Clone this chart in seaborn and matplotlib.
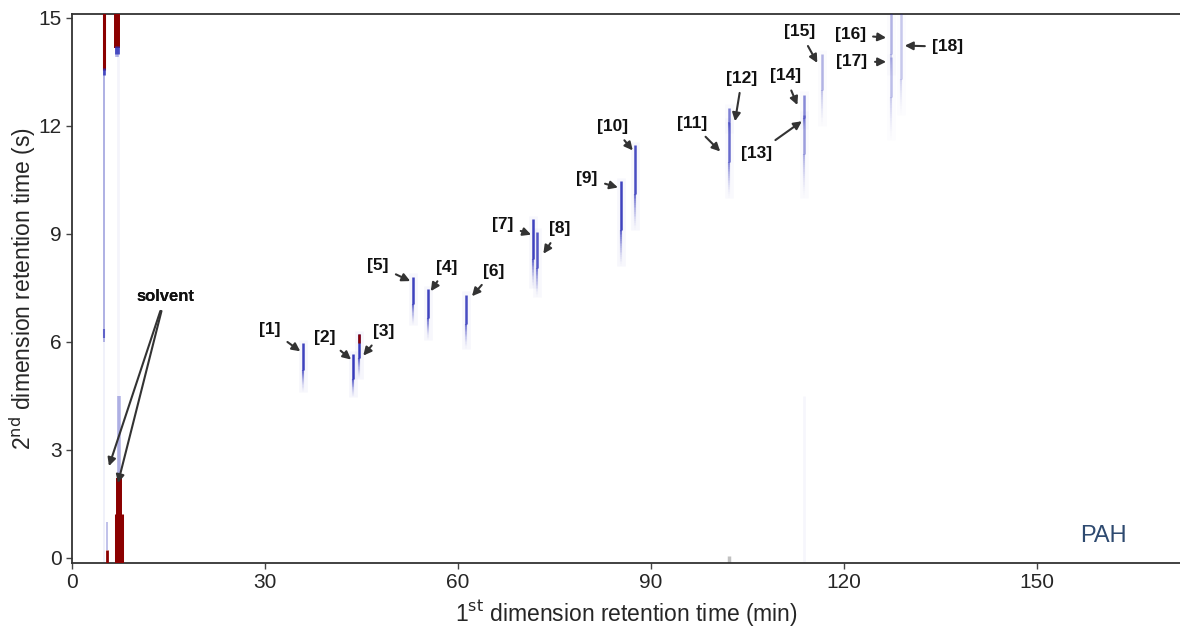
import numpy as np
import matplotlib
matplotlib.use("Agg")
import matplotlib.pyplot as plt
import seaborn as sns

# GCxGC chromatogram of a PAH standard

# compound peaks: 1st dim rt (min), 2nd dim rt at peak top and bottom of the dense core (s), tail length (s)
peak_rt1 = [35.9, 43.7, 44.6, 55.4, 53.0, 61.3, 71.7, 72.3, 85.4, 87.6,
            102.2, 102.2, 113.8, 113.8, 116.6, 127.3, 127.3, 128.9]
peak_top = [5.95, 5.65, 6.20, 7.45, 7.80, 7.30, 9.40, 9.05, 10.45, 11.45,
            12.10, 12.50, 12.30, 12.85, 14.00, 15.20, 13.90, 15.20]
peak_bot = [5.20, 4.95, 5.55, 6.65, 7.05, 6.50, 8.30, 8.05, 9.10, 10.10,
            11.00, 12.10, 11.20, 12.20, 13.00, 14.00, 12.80, 13.30]
peak_tail = [0.6, 0.5, 0.6, 0.6, 0.6, 0.7, 0.8, 0.8, 1.0, 1.0,
             1.0, 0.3, 1.2, 0.3, 1.0, 0.6, 1.2, 1.0]
peak_strength = [0.9, 0.95, 0.95, 0.9, 0.9, 0.85, 0.9, 0.8, 0.9, 0.85,
                 0.7, 0.6, 0.45, 0.55, 0.35, 0.35, 0.3, 0.25]
peak_labels = ["[%d]" % i for i in range(1, 19)]

# solvent streaks (wrap-around): rt1, red part top/bottom, blue part top/bottom
solvent_rt1 = [5.0, 7.0, 5.4, 7.3]
solvent_red_top = [15.2, 15.2, 0.2, 2.2]
solvent_red_bot = [13.55, 14.15, -0.2, -0.2]
solvent_blue_top = [13.55, 14.15, 1.0, 4.5]
solvent_blue_bot = [6.0, 13.9, 0.2, 2.2]

# annotation layout: arrow tip and label centre (data coords)
tip_x = [35.5, 43.4, 45.3, 55.8, 52.6, 62.2, 71.4, 73.3, 84.9, 87.2,
         100.8, 103.1, 113.5, 112.8, 115.9, 126.6, 126.6, 129.5]
tip_y = [5.73, 5.50, 5.61, 7.40, 7.68, 7.26, 8.97, 8.44, 10.28, 11.31,
         11.28, 12.12, 12.12, 12.57, 13.74, 14.44, 13.77, 14.22]
txt_x = [30.8, 39.3, 48.4, 58.3, 47.6, 65.6, 67.0, 75.9, 80.1, 84.1,
         96.4, 104.2, 106.5, 110.9, 113.2, 121.0, 121.3, 136.2]
txt_y = [6.34, 6.12, 6.28, 8.07, 8.10, 7.96, 9.25, 9.13, 10.53, 11.98,
         12.07, 13.32, 11.23, 13.38, 14.61, 14.53, 13.77, 14.19]

sns.set_style("white")
plt.rcParams['font.family'] = ['Liberation Sans', 'DejaVu Sans']

fig = plt.figure(figsize=(11.8, 6.34), dpi=100)
ax = fig.add_axes([0.061, 0.112, 0.939, 0.866])

blue = "#2b2fb8"
red = "#8b0000"


def streak(x, top, bot, tail, color, lw, strength=1.0, halo=True):
    # faint halo around the peak
    if halo:
        ax.vlines(x, bot - tail, top + 0.1, color=color, lw=lw * 3.5,
                  alpha=0.04 * strength, zorder=1)
    # dense core
    ax.vlines(x, bot, top, color=color, lw=lw, alpha=strength, zorder=3)
    # fading tail
    n = 20
    edges = np.linspace(bot, bot - tail, n + 1)
    for i in range(n):
        a = strength * 0.85 * (1 - (i + 1) / (n + 1)) ** 1.5
        ax.vlines(x, edges[i + 1], edges[i], color=color, lw=lw * 0.85,
                  alpha=a, zorder=2)


# faint long streaks in the background
ax.vlines(5.0, -0.2, 15.2, color=blue, lw=1.2, alpha=0.08, zorder=1)
ax.vlines(7.2, -0.2, 15.2, color=blue, lw=2.0, alpha=0.05, zorder=1)
ax.vlines(113.9, -0.2, 4.5, color=blue, lw=2.0, alpha=0.04, zorder=1)
ax.vlines(102.2, -0.2, 0.05, color="#333333", lw=2.5, alpha=0.3, zorder=1)

for i in range(len(peak_rt1)):
    streak(peak_rt1[i], peak_top[i], peak_bot[i], peak_tail[i], blue, 1.8,
           peak_strength[i])
# red tip on peak [3]
ax.vlines(peak_rt1[2], peak_top[2] - 0.25, peak_top[2], color=red, lw=1.8, zorder=4)

# solvent
widths = [2.2, 4.3, 2.0, 4.3]
for i in range(len(solvent_rt1)):
    ax.vlines(solvent_rt1[i], solvent_blue_bot[i], solvent_blue_top[i],
              color=blue, lw=widths[i] * 0.6, alpha=0.35, zorder=2)
    ax.vlines(solvent_rt1[i], solvent_red_bot[i], solvent_red_top[i],
              color=red, lw=widths[i], zorder=4)
ax.vlines(solvent_rt1[1], solvent_red_bot[1] - 0.15, solvent_red_bot[1] + 0.05,
          color=blue, lw=3.5, alpha=0.8, zorder=5)
ax.vlines(solvent_rt1[0], solvent_red_bot[0] - 0.15, solvent_red_bot[0] + 0.05,
          color=blue, lw=2.0, alpha=0.8, zorder=5)
ax.vlines(solvent_rt1[0], 6.1, 6.35, color=blue, lw=1.5, alpha=0.6, zorder=3)
# widening foot of main solvent peak
ax.vlines(solvent_rt1[3], -0.2, 1.2, color=red, lw=6.5, zorder=4)

arrow = dict(arrowstyle="-|>", color="#333333", lw=1.5, mutation_scale=12,
             shrinkA=3, shrinkB=0)
for i in range(len(peak_labels)):
    ax.annotate(peak_labels[i], xy=(tip_x[i], tip_y[i]), xytext=(txt_x[i], txt_y[i]),
                ha="center", va="center", fontsize=12.5, fontweight="bold",
                color="#111111", arrowprops=arrow, zorder=6)

for tx, ty in [(5.75, 2.54), (7.15, 2.07)]:
    ax.annotate("solvent", xy=(tx, ty), xytext=(14.5, 7.26), ha="center",
                va="center", fontsize=12, fontweight="bold", color="#111111",
                arrowprops=arrow, zorder=6)

ax.text(164, 0.6, "PAH", fontsize=17, color="#2e4a70", ha="right", va="center")

ax.set_xlim(0, 172.3)
ax.set_ylim(-0.15, 15.1)
ax.set_xticks([0, 30, 60, 90, 120, 150])
ax.set_yticks([0, 3, 6, 9, 12, 15])
ax.tick_params(axis="both", labelsize=15, length=4, width=1, color="#444444",
               direction="out", bottom=True, left=True)
ax.set_xlabel("1$^{\\mathrm{st}}$ dimension retention time (min)", fontsize=16.5,
              labelpad=4)
ax.set_ylabel("2$^{\\mathrm{nd}}$ dimension retention time (s)", fontsize=16.5)
ax.yaxis.set_label_coords(-0.031, 0.5)
for side in ["left", "bottom", "top"]:
    ax.spines[side].set_color("#333333")
    ax.spines[side].set_linewidth(1.3)
ax.spines["right"].set_visible(False)

fig.savefig("out.png", dpi=100)
